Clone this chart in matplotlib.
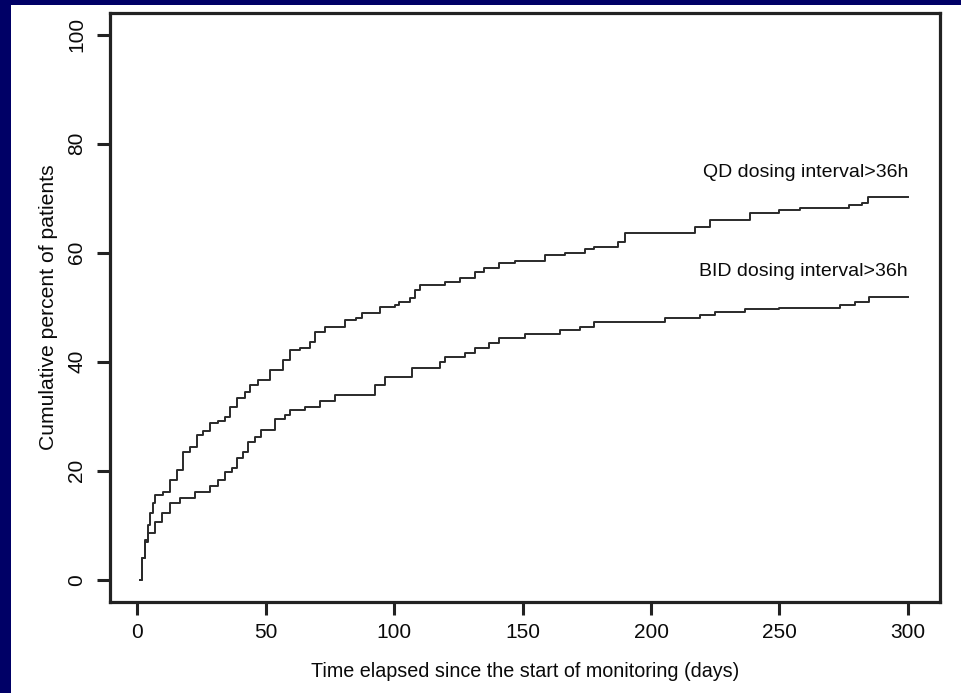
import matplotlib
matplotlib.use("Agg")
import matplotlib.pyplot as plt
from matplotlib.patches import Rectangle

# cumulative percent of patients with a dosing gap > 36h, by day of monitoring
qd_days = [1, 2, 3, 4, 5, 6, 7, 10, 12.8, 15.6, 18, 20.6, 23.3, 25.7, 28.4, 31.5, 34, 36, 39, 42,
           44, 47, 51.8, 56.8, 59.5, 63.4, 67.3, 69.3, 73, 81, 85, 87.5, 94.5, 100.4, 102, 106, 108,
           110, 120, 125.7, 131.5, 135, 141, 147, 158.8, 166.5, 174.3, 178, 187, 190, 217, 223,
           238.5, 250, 258, 277, 282, 284.4, 300]
qd_pct = [0, 4, 7.3, 10, 12.3, 14, 15.6, 16, 18.3, 20.2, 23.5, 24.4, 26.6, 27.2, 28.8, 29.2, 29.9,
          31.7, 33.4, 34.5, 35.8, 36.7, 38.5, 40.4, 42.2, 42.6, 43.7, 45.5, 46.4, 47.7, 48, 49, 50.1,
          50.5, 51, 51.7, 53.2, 54.1, 54.7, 55.4, 56.5, 57.2, 58.1, 58.4, 59.6, 60, 60.6, 61.1, 62,
          63.7, 64.8, 66, 67.3, 67.9, 68.2, 68.8, 69.2, 70.3, 70.3]

bid_days = [1, 2, 3, 4, 7, 9.7, 12.8, 16.7, 22.6, 28.4, 31.5, 34, 37, 39, 41, 43, 46, 48, 53.7,
            57.6, 59.5, 65.4, 71.2, 77, 92.6, 96.5, 107, 118, 120, 127.6, 131.5, 137, 141, 151,
            164.6, 172.4, 178, 205.4, 219, 225, 236.6, 250, 273.5, 279.4, 285, 300]
bid_pct = [0, 4, 7, 8.6, 10.6, 12.3, 14.1, 15, 16.1, 17.1, 18.3, 19.8, 20.5, 22.4, 23.5, 25.3, 26.2,
           27.5, 29.4, 30.3, 31.2, 31.7, 32.7, 33.9, 35.8, 37.2, 38.9, 40, 40.9, 41.6, 42.5, 43.5,
           44.4, 45, 45.9, 46.4, 47.3, 48, 48.6, 49.2, 49.7, 49.9, 50.5, 51, 51.9, 51.9]

labels = ["QD dosing interval>36h", "BID dosing interval>36h"]
x_ticks = [0, 50, 100, 150, 200, 250, 300]
y_ticks = [0, 20, 40, 60, 80, 100]

plt.rcParams['font.family'] = ['Liberation Sans', 'DejaVu Sans']

W, H = 961, 693
fig = plt.figure(figsize=(W / 100, H / 100), dpi=100)
fig.patch.set_facecolor('#000066')
# white page inside the navy frame
fig.patches.append(Rectangle((11 / W, 0), 1, (H - 5) / H, transform=fig.transFigure,
                             facecolor='white', edgecolor='none', zorder=-10))

ax = fig.add_axes([110 / W, 1 - 602 / H, (940 - 110) / W, (602 - 13) / H])
ax.set_facecolor('white')

line_col = '#2a2a2a'
ax.plot(qd_days, qd_pct, drawstyle='steps-post', color=line_col, lw=1.4)
ax.plot(bid_days, bid_pct, drawstyle='steps-post', color=line_col, lw=1.4)

ax.text(300, 73.2, labels[0], ha='right', va='bottom', fontsize=14, color='#0a0a0a')
ax.text(300, 55.0, labels[1], ha='right', va='bottom', fontsize=14, color='#0a0a0a')

ax.set_xlim(-10.6, 312.5)
ax.set_ylim(-4.1, 104)
ax.set_xticks(x_ticks)
ax.set_yticks(y_ticks)
ax.set_yticklabels([str(v) for v in y_ticks], rotation=90, va='center')

for s in ax.spines.values():
    s.set_linewidth(2.3)
    s.set_color('#222222')
ax.tick_params(direction='out', length=9.5, width=2.2, color='#222222',
               labelsize=15, labelcolor='#0a0a0a')
ax.tick_params(axis='x', pad=5.5)
ax.tick_params(axis='y', pad=7.5)

ax.set_xlabel("Time elapsed since the start of monitoring (days)", fontsize=14.2,
              color='#0a0a0a', labelpad=14.5)
ax.set_ylabel("Cumulative percent of patients", fontsize=15.2, color='#0a0a0a', labelpad=7)

fig.savefig("out.png", dpi=100, facecolor=fig.get_facecolor())
